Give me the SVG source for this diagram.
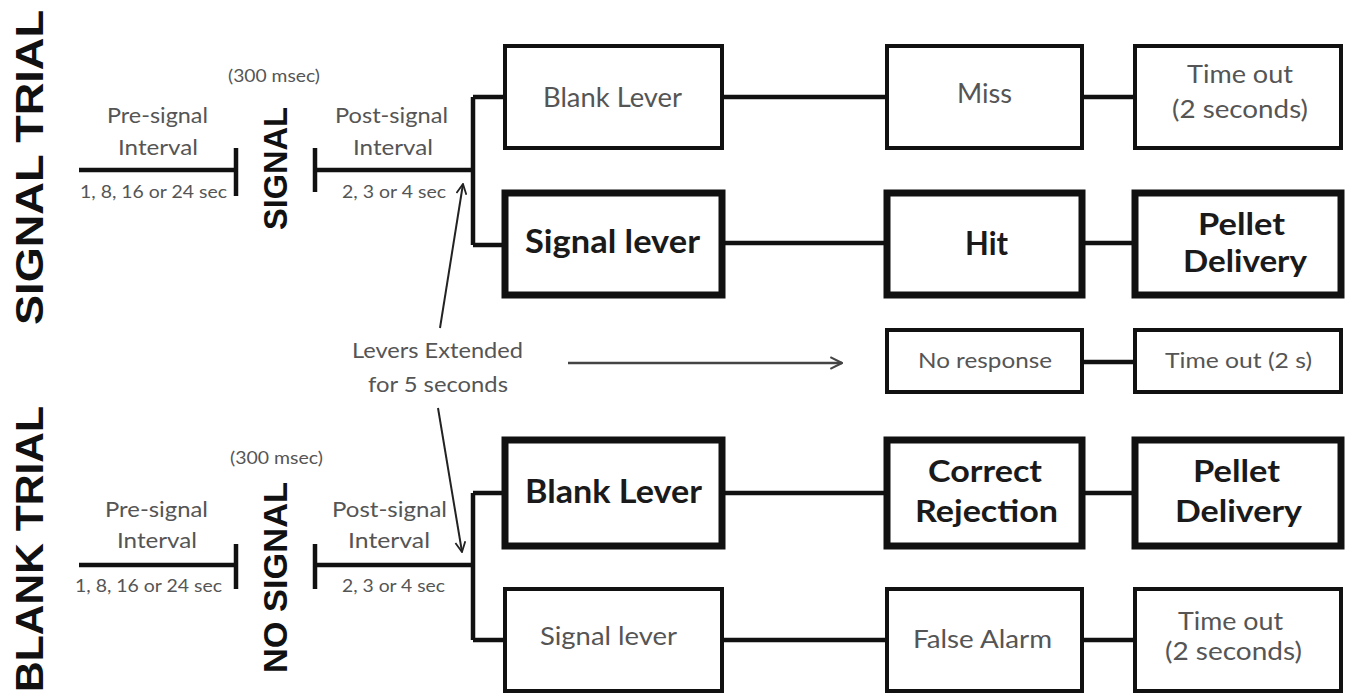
<svg xmlns="http://www.w3.org/2000/svg" width="1350" height="694" viewBox="0 0 1350 694">
<defs>
<marker id="open" viewBox="0 0 12 12" refX="11" refY="6" markerWidth="12" markerHeight="12" markerUnits="userSpaceOnUse" orient="auto">
<path d="M1,1 L11,6 L1,11" fill="none" stroke="#222" stroke-width="1.8"/>
</marker>
<marker id="open2" viewBox="0 0 12 12" refX="11" refY="6" markerWidth="14" markerHeight="14" markerUnits="userSpaceOnUse" orient="auto">
<path d="M1,1 L11,6 L1,11" fill="none" stroke="#444" stroke-width="1.8"/>
</marker>
</defs>
<style>
.thin{fill:#fff;stroke:#111;stroke-width:4}
.thick{fill:#fff;stroke:#111;stroke-width:7}
.ln{fill:none;stroke:#111;stroke-width:4.5}
.tl{font-family:Lato,"Open Sans",sans-serif;fill:#555;text-anchor:middle}
.tb{font-family:Lato,"Open Sans",sans-serif;font-weight:bold;fill:#1a1a1a;text-anchor:middle}
.big{font-family:"Liberation Sans",Arial,sans-serif;font-weight:bold;fill:#111;text-anchor:middle}
.ar{fill:none;stroke:#222;stroke-width:2}
</style>
<rect width="1350" height="694" fill="#fff"/>

<g id="titles">
<text class="big" font-size="39" transform="translate(43,167.5) rotate(-90)" textLength="315" lengthAdjust="spacingAndGlyphs">SIGNAL TRIAL</text>
<text class="big" font-size="39" transform="translate(43,549) rotate(-90)" textLength="286" lengthAdjust="spacingAndGlyphs">BLANK TRIAL</text>
</g>

<g id="signal-timeline">
<text class="tl" x="157.5" y="123" font-size="21.5" textLength="101" lengthAdjust="spacingAndGlyphs">Pre-signal</text>
<text class="tl" x="158" y="155" font-size="21.5" textLength="80" lengthAdjust="spacingAndGlyphs">Interval</text>
<text class="tl" x="153.5" y="198" font-size="18" textLength="147" lengthAdjust="spacingAndGlyphs">1, 8, 16 or 24 sec</text>
<text class="tl" x="274" y="82" font-size="17" textLength="92" lengthAdjust="spacingAndGlyphs">(300 msec)</text>
<text class="big" font-size="33" transform="translate(287,168.5) rotate(-90)" textLength="123" lengthAdjust="spacingAndGlyphs">SIGNAL</text>
<text class="tl" x="391.5" y="123" font-size="21.5" textLength="113" lengthAdjust="spacingAndGlyphs">Post-signal</text>
<text class="tl" x="393" y="155" font-size="21.5" textLength="80" lengthAdjust="spacingAndGlyphs">Interval</text>
<text class="tl" x="394" y="198" font-size="18" textLength="104" lengthAdjust="spacingAndGlyphs">2, 3 or 4 sec</text>
</g>

<g id="blank-timeline">
<text class="tl" x="156.5" y="517" font-size="21.5" textLength="103" lengthAdjust="spacingAndGlyphs">Pre-signal</text>
<text class="tl" x="157" y="548" font-size="21.5" textLength="80" lengthAdjust="spacingAndGlyphs">Interval</text>
<text class="tl" x="148.5" y="592" font-size="18" textLength="147" lengthAdjust="spacingAndGlyphs">1, 8, 16 or 24 sec</text>
<text class="tl" x="276.5" y="464" font-size="17" textLength="93" lengthAdjust="spacingAndGlyphs">(300 msec)</text>
<text class="big" font-size="33" transform="translate(287,577.5) rotate(-90)" textLength="191" lengthAdjust="spacingAndGlyphs">NO SIGNAL</text>
<text class="tl" x="389.5" y="517" font-size="21.5" textLength="115" lengthAdjust="spacingAndGlyphs">Post-signal</text>
<text class="tl" x="389" y="548" font-size="21.5" textLength="82" lengthAdjust="spacingAndGlyphs">Interval</text>
<text class="tl" x="393.5" y="592" font-size="18" textLength="103" lengthAdjust="spacingAndGlyphs">2, 3 or 4 sec</text>
</g>

<g id="levers-note">
<text class="tl" x="437.5" y="358" font-size="21" textLength="171" lengthAdjust="spacingAndGlyphs">Levers Extended</text>
<text class="tl" x="438" y="392" font-size="21" textLength="140" lengthAdjust="spacingAndGlyphs">for 5 seconds</text>
</g>

<g id="connectors">
<path class="ln" d="M79,170 H236 M236,148 V196 M315,148 V192 M315,170 H473 M473,97 V245 M473,97 H505 M473,245 H505"/>
<path class="ln" d="M79,565 H236 M236,544 V589 M315,544 V589 M315,565 H473 M473,493 V640 M473,493 H505 M473,640 H505"/>
<path class="ln" d="M722,97 H887 M1082,97 H1135 M722,243 H887 M1082,243 H1135 M1082,362 H1135 M722,493 H887 M1082,493 H1135 M722,640 H887 M1082,640 H1135"/>
<line class="ar" x1="440" y1="328" x2="463" y2="184" marker-end="url(#open)"/>
<line class="ar" x1="438" y1="408" x2="462" y2="552" marker-end="url(#open)"/>
<line x1="568" y1="363" x2="842" y2="363" stroke="#444" stroke-width="2.5" marker-end="url(#open2)"/>
</g>

<g id="n-blank-lever-s"><rect class="thin" x="505" y="46" width="217" height="102"/><text class="tl" x="612.5" y="107" font-size="26" textLength="139" lengthAdjust="spacingAndGlyphs">Blank Lever</text></g>
<g id="n-signal-lever-s"><rect class="thick" x="505" y="193" width="217" height="102"/><text class="tb" x="612.5" y="253" font-size="32" textLength="175" lengthAdjust="spacingAndGlyphs">Signal lever</text></g>
<g id="n-miss"><rect class="thin" x="887" y="46" width="195" height="102"/><text class="tl" x="984.5" y="103" font-size="26" textLength="55" lengthAdjust="spacingAndGlyphs">Miss</text></g>
<g id="n-timeout-1"><rect class="thin" x="1135" y="46" width="206" height="102"/><text class="tl" x="1240" y="83" font-size="25" textLength="106" lengthAdjust="spacingAndGlyphs">Time out</text><text class="tl" x="1240" y="118" font-size="25" textLength="136" lengthAdjust="spacingAndGlyphs">(2 seconds)</text></g>
<g id="n-hit"><rect class="thick" x="887" y="193" width="195" height="102"/><text class="tb" x="986.5" y="255" font-size="32" textLength="43" lengthAdjust="spacingAndGlyphs">Hit</text></g>
<g id="n-pellet-1"><rect class="thick" x="1135" y="193" width="206" height="102"/><text class="tb" x="1241.5" y="235" font-size="31" textLength="87" lengthAdjust="spacingAndGlyphs">Pellet</text><text class="tb" x="1245" y="272" font-size="31" textLength="124" lengthAdjust="spacingAndGlyphs">Delivery</text></g>
<g id="n-no-response"><rect class="thin" x="887" y="330" width="195" height="62"/><text class="tl" x="985" y="368" font-size="20.5" textLength="134" lengthAdjust="spacingAndGlyphs">No response</text></g>
<g id="n-timeout-2s"><rect class="thin" x="1135" y="330" width="206" height="62"/><text class="tl" x="1238.5" y="368" font-size="20.5" textLength="147" lengthAdjust="spacingAndGlyphs">Time out (2 s)</text></g>
<g id="n-blank-lever-b"><rect class="thick" x="505" y="440" width="217" height="106"/><text class="tb" x="613.5" y="503" font-size="32" textLength="177" lengthAdjust="spacingAndGlyphs">Blank Lever</text></g>
<g id="n-correct-rejection"><rect class="thick" x="887" y="440" width="195" height="106"/><text class="tb" x="985" y="482" font-size="31" textLength="114" lengthAdjust="spacingAndGlyphs">Correct</text><text class="tb" x="986.5" y="522" font-size="31" textLength="143" lengthAdjust="spacingAndGlyphs">Rejection</text></g>
<g id="n-pellet-2"><rect class="thick" x="1135" y="440" width="206" height="106"/><text class="tb" x="1236.5" y="482" font-size="31" textLength="87" lengthAdjust="spacingAndGlyphs">Pellet</text><text class="tb" x="1238.5" y="522" font-size="31" textLength="127" lengthAdjust="spacingAndGlyphs">Delivery</text></g>
<g id="n-signal-lever-b"><rect class="thin" x="505" y="589" width="217" height="102"/><text class="tl" x="608.5" y="645" font-size="24.5" textLength="137" lengthAdjust="spacingAndGlyphs">Signal lever</text></g>
<g id="n-false-alarm"><rect class="thin" x="887" y="589" width="195" height="102"/><text class="tl" x="982.5" y="648" font-size="24.5" textLength="139" lengthAdjust="spacingAndGlyphs">False Alarm</text></g>
<g id="n-timeout-3"><rect class="thin" x="1135" y="589" width="206" height="102"/><text class="tl" x="1230.5" y="630" font-size="24.5" textLength="105" lengthAdjust="spacingAndGlyphs">Time out</text><text class="tl" x="1233.5" y="660" font-size="24.5" textLength="137" lengthAdjust="spacingAndGlyphs">(2 seconds)</text></g>
</svg>
